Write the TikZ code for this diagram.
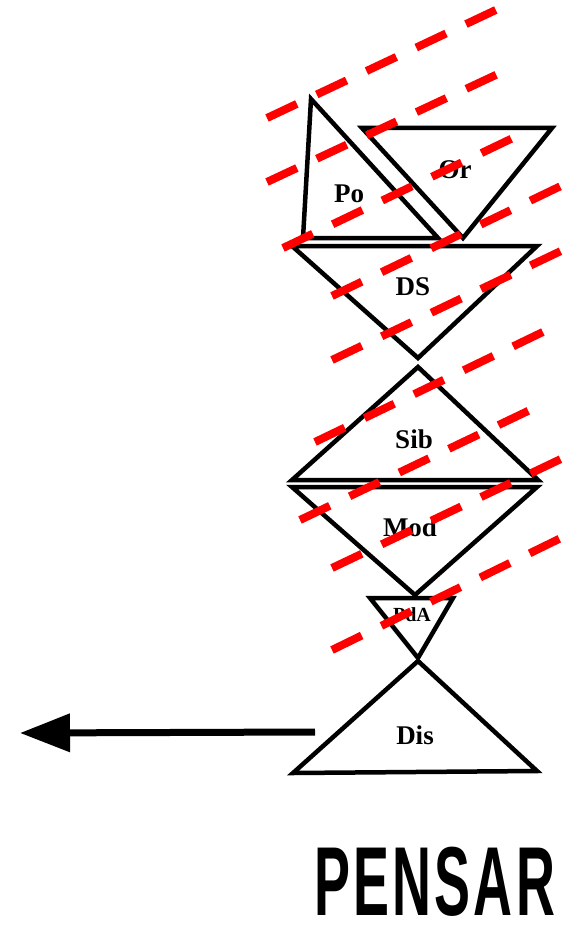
\documentclass[tikz,border=0pt]{standalone}
\usepackage{fontspec}
\setmainfont{Liberation Serif}
\newfontfamily\titulofont[LetterSpace=6]{Liberation Sans}
\usetikzlibrary{arrows.meta}

\begin{document}
\begin{tikzpicture}[x=1pt, y=-1pt,
                    triangulo/.style={draw, line width=4.5pt},
                    etiqueta/.style={font=\bfseries\fontsize{27}{27}\selectfont, inner sep=0pt},
                    raya/.style={red, line width=8pt, dash pattern=on 33pt off 22pt},
                    flecha/.style={line width=7pt, -{Triangle[length=50pt, width=37pt]}}]
    \useasboundingbox (0,0) rectangle (577,925);

    % Triángulos
    \draw[triangulo] (311,99) -- (303,238) -- (438,238) -- cycle;
    \draw[triangulo] (362,128) -- (552,128) -- (463,238) -- cycle;
    \draw[triangulo] (292,246) -- (537,246) -- (418,358) -- cycle;
    \draw[triangulo] (418,367) -- (538,480) -- (292,480) -- cycle;
    \draw[triangulo] (292,487) -- (537,487) -- (415,595) -- cycle;
    \draw[triangulo] (370,598) -- (453,598) -- (418,658) -- cycle;
    \draw[triangulo] (418,661) -- (537,771) -- (293,773) -- cycle;

    % Etiquetas
    \node[etiqueta] (po) at (349,194) {Po};
    \node[etiqueta] (or) at (455,170) {Or};
    \node[etiqueta] (ds) at (413,287) {DS};
    \node[etiqueta] (sib) at (414,439) {Sib};
    \node[etiqueta] (mod) at (410,527) {Mod};
    \node[etiqueta, font=\bfseries\fontsize{20}{20}\selectfont] (pda) at (412,615) {PdA};
    \node[etiqueta] (dis) at (415,735) {Dis};

    % Flecha
    \coordinate (origen) at (315,732);
    \coordinate (destino) at (20,733);
    \draw[flecha] (origen) -- (destino);

    % Rayas rojas
    \draw[raya] (267,118) -- (500,8);
    \draw[raya] (267,182) -- (500,73);
    \draw[raya] (283,248) -- (515,137);
    \draw[raya] (332,296) -- (563,185);
    \draw[raya] (332,360) -- (563,250);
    \draw[raya] (315,442) -- (547,330);
    \draw[raya] (300,520) -- (530,410);
    \draw[raya] (332,568) -- (563,458);
    \draw[raya] (332,650) -- (563,537);

    % Título
    \node[anchor=base west, inner sep=0pt] (pensar) at (314,915)
        {\scalebox{0.55}[1]{\titulofont\bfseries\fontsize{98}{98}\selectfont PENSAR}};
\end{tikzpicture}
\end{document}
